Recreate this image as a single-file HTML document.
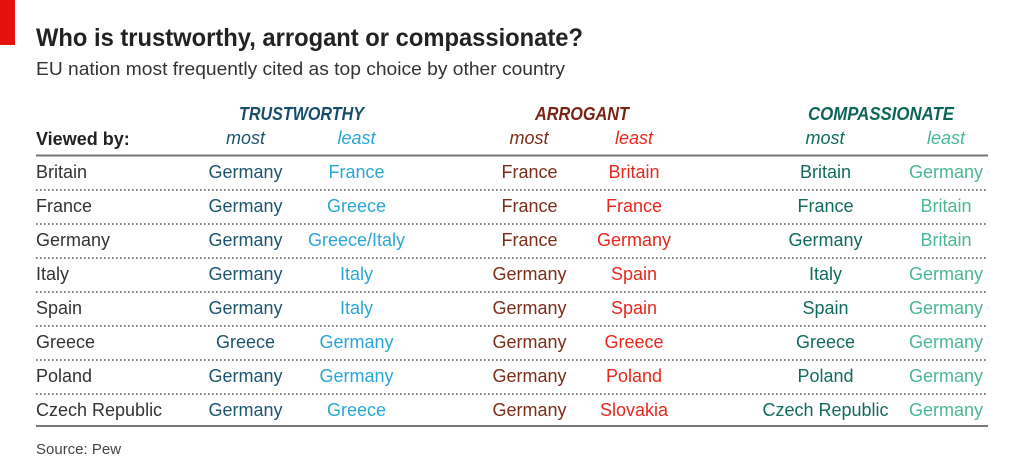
<!DOCTYPE html>
<html>
<head>
<meta charset="utf-8">
<style>
  html,body{margin:0;padding:0;background:#fff;}
  svg{display:block;}
  text{font-family:"Liberation Sans",sans-serif;}
  .row{font-size:18px;fill:#333;}
  .d{font-size:18px;text-anchor:middle;}
  .tm{fill:#1d5570;} .tl{fill:#2aa6d6;}
  .am{fill:#7c2d1b;} .al{fill:#e8281c;}
  .cm{fill:#116b5f;} .cl{fill:#4ab891;}
  .sub{font-size:18px;font-style:italic;text-anchor:middle;}
  .hd{font-size:18px;font-weight:bold;font-style:italic;text-anchor:middle;}
</style>
</head>
<body>
<svg width="1024" height="471" viewBox="0 0 1024 471" xmlns="http://www.w3.org/2000/svg">
  <rect x="0" y="0" width="15" height="45" fill="#e3120b"/>
  <text x="36" y="46" font-size="25" font-weight="bold" fill="#222" textLength="547" lengthAdjust="spacingAndGlyphs">Who is trustworthy, arrogant or compassionate?</text>
  <text x="36" y="75" font-size="18" fill="#333" textLength="529" lengthAdjust="spacingAndGlyphs">EU nation most frequently cited as top choice by other country</text>

  <text class="hd" x="301.5" y="120" fill="#164e68" textLength="125" lengthAdjust="spacingAndGlyphs">TRUSTWORTHY</text>
  <text class="hd" x="582" y="120" fill="#7a2215" textLength="94" lengthAdjust="spacingAndGlyphs">ARROGANT</text>
  <text class="hd" x="881" y="120" fill="#0d6459" textLength="146" lengthAdjust="spacingAndGlyphs">COMPASSIONATE</text>

  <text x="36" y="145" font-size="18" font-weight="bold" fill="#222">Viewed by:</text>
  <text class="sub tm" x="245.5" y="144">most</text>
  <text class="sub tl" x="356.5" y="144">least</text>
  <text class="sub am" x="529" y="144">most</text>
  <text class="sub al" x="634" y="144">least</text>
  <text class="sub cm" x="825" y="144">most</text>
  <text class="sub cl" x="946" y="144">least</text>

  <line x1="36" y1="155.5" x2="988" y2="155.5" stroke="#777" stroke-width="2"/>

  <g stroke="#555" stroke-width="1.6" stroke-dasharray="1.6 2.4">
    <line x1="36" y1="190" x2="986" y2="190"/>
    <line x1="36" y1="224" x2="986" y2="224"/>
    <line x1="36" y1="258" x2="986" y2="258"/>
    <line x1="36" y1="292" x2="986" y2="292"/>
    <line x1="36" y1="326" x2="986" y2="326"/>
    <line x1="36" y1="360" x2="986" y2="360"/>
    <line x1="36" y1="394" x2="986" y2="394"/>
  </g>
  <line x1="36" y1="426" x2="988" y2="426" stroke="#777" stroke-width="2"/>

  <!-- Row labels -->
  <text class="row" x="36" y="178">Britain</text>
  <text class="row" x="36" y="212">France</text>
  <text class="row" x="36" y="246">Germany</text>
  <text class="row" x="36" y="280">Italy</text>
  <text class="row" x="36" y="314">Spain</text>
  <text class="row" x="36" y="348">Greece</text>
  <text class="row" x="36" y="382">Poland</text>
  <text class="row" x="36" y="416">Czech Republic</text>

  <!-- Trustworthy most -->
  <text class="d tm" x="245.5" y="178">Germany</text>
  <text class="d tm" x="245.5" y="212">Germany</text>
  <text class="d tm" x="245.5" y="246">Germany</text>
  <text class="d tm" x="245.5" y="280">Germany</text>
  <text class="d tm" x="245.5" y="314">Germany</text>
  <text class="d tm" x="245.5" y="348">Greece</text>
  <text class="d tm" x="245.5" y="382">Germany</text>
  <text class="d tm" x="245.5" y="416">Germany</text>

  <!-- Trustworthy least -->
  <text class="d tl" x="356.5" y="178">France</text>
  <text class="d tl" x="356.5" y="212">Greece</text>
  <text class="d tl" x="356.5" y="246">Greece/Italy</text>
  <text class="d tl" x="356.5" y="280">Italy</text>
  <text class="d tl" x="356.5" y="314">Italy</text>
  <text class="d tl" x="356.5" y="348">Germany</text>
  <text class="d tl" x="356.5" y="382">Germany</text>
  <text class="d tl" x="356.5" y="416">Greece</text>

  <!-- Arrogant most -->
  <text class="d am" x="529.5" y="178">France</text>
  <text class="d am" x="529.5" y="212">France</text>
  <text class="d am" x="529.5" y="246">France</text>
  <text class="d am" x="529.5" y="280">Germany</text>
  <text class="d am" x="529.5" y="314">Germany</text>
  <text class="d am" x="529.5" y="348">Germany</text>
  <text class="d am" x="529.5" y="382">Germany</text>
  <text class="d am" x="529.5" y="416">Germany</text>

  <!-- Arrogant least -->
  <text class="d al" x="634" y="178">Britain</text>
  <text class="d al" x="634" y="212">France</text>
  <text class="d al" x="634" y="246">Germany</text>
  <text class="d al" x="634" y="280">Spain</text>
  <text class="d al" x="634" y="314">Spain</text>
  <text class="d al" x="634" y="348">Greece</text>
  <text class="d al" x="634" y="382">Poland</text>
  <text class="d al" x="634" y="416">Slovakia</text>

  <!-- Compassionate most -->
  <text class="d cm" x="825.5" y="178">Britain</text>
  <text class="d cm" x="825.5" y="212">France</text>
  <text class="d cm" x="825.5" y="246">Germany</text>
  <text class="d cm" x="825.5" y="280">Italy</text>
  <text class="d cm" x="825.5" y="314">Spain</text>
  <text class="d cm" x="825.5" y="348">Greece</text>
  <text class="d cm" x="825.5" y="382">Poland</text>
  <text class="d cm" x="825.5" y="416">Czech Republic</text>

  <!-- Compassionate least -->
  <text class="d cl" x="946" y="178">Germany</text>
  <text class="d cl" x="946" y="212">Britain</text>
  <text class="d cl" x="946" y="246">Britain</text>
  <text class="d cl" x="946" y="280">Germany</text>
  <text class="d cl" x="946" y="314">Germany</text>
  <text class="d cl" x="946" y="348">Germany</text>
  <text class="d cl" x="946" y="382">Germany</text>
  <text class="d cl" x="946" y="416">Germany</text>

  <text x="36" y="454" font-size="15" fill="#444">Source: Pew</text>
</svg>
</body>
</html>
